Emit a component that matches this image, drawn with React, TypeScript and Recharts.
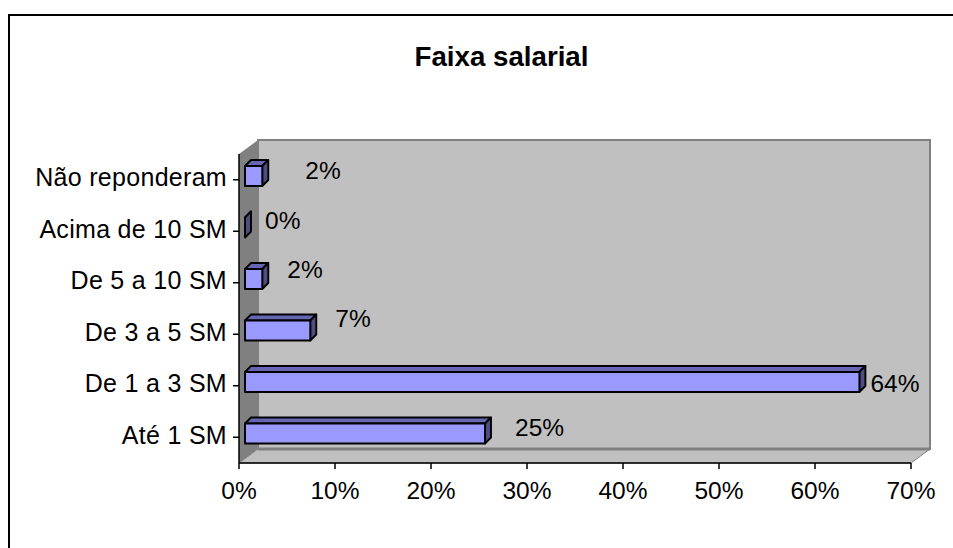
import React from "react";
import {
  BarChart,
  Bar,
  XAxis,
  YAxis,
  LabelList,
  ReferenceArea,
} from "recharts";

const categories = [
  "Não reponderam",
  "Acima de 10 SM",
  "De 5 a 10 SM",
  "De 3 a 5 SM",
  "De 1 a 3 SM",
  "Até 1 SM",
];
// the labels show them rounded
const percents = [1.8, 0, 1.8, 6.8, 64, 25];
const xTicks = [0, 10, 20, 30, 40, 50, 60, 70];

const rows = categories.map((name, i) => ({ name, value: percents[i] }));

// hand placed label nudges, the original labels were dragged around
const labelDx = [43, 20, 25, 25, 11, 30];
const labelDy = [-10, -11, -14, -16, -3, -10];

const FONT = '"Liberation Sans", Arial, sans-serif';
const DEPTH_X = 19; // wall offset
const DEPTH_Y = 14;
const BAR_DEPTH = 6;

const Wall = (props: any) => {
  const { x, y, width, height } = props;
  const right = x + width;
  const bottom = y + height;
  return (
    <g>
      {/* back wall */}
      <rect
        x={x + DEPTH_X}
        y={y - DEPTH_Y}
        width={width}
        height={height}
        fill="#c0c0c0"
        stroke="#808080"
        strokeWidth={2}
      />
      {/* side wall */}
      <polygon
        points={`${x},${y} ${x + DEPTH_X},${y - DEPTH_Y} ${x + DEPTH_X},${bottom - DEPTH_Y} ${x},${bottom}`}
        fill="#808080"
      />
      {/* floor */}
      <polygon
        points={`${x},${bottom} ${x + DEPTH_X},${bottom - DEPTH_Y} ${right + DEPTH_X},${bottom - DEPTH_Y} ${right},${bottom}`}
        fill="#c0c0c0"
        stroke="#808080"
        strokeWidth={1}
      />
      <line x1={x + DEPTH_X} y1={bottom - DEPTH_Y} x2={right + DEPTH_X} y2={bottom - DEPTH_Y} stroke="#808080" strokeWidth={3} />
    </g>
  );
};

const Bar3D = (props: any) => {
  const { x, y, width, height } = props;
  const fx = x + 6;
  const fy = y - 4;
  const w = width;
  const d = BAR_DEPTH;
  const line = { stroke: "#000", strokeWidth: 1.9, strokeLinejoin: "round" as const };
  return (
    <g>
      <polygon
        points={`${fx},${fy} ${fx + d},${fy - d} ${fx + w + d},${fy - d} ${fx + w},${fy}`}
        fill="#6666b3"
        {...line}
      />
      <polygon
        points={`${fx + w},${fy} ${fx + w + d},${fy - d} ${fx + w + d},${fy + height - d} ${fx + w},${fy + height}`}
        fill="#4d4d80"
        {...line}
      />
      {w > 0 && <rect x={fx} y={fy} width={w} height={height} fill="#9999ff" {...line} />}
    </g>
  );
};

const PercentLabel = (props: any) => {
  const { x, y, width, height, value, index } = props;
  return (
    <text
      x={x + width + 6 + labelDx[index]}
      y={y + height / 2 + labelDy[index]}
      dy="0.35em"
      fontFamily={FONT}
      fontSize={24.5}
      fill="#000"
    >
      {Math.round(value)}%
    </text>
  );
};

// category tick, sits a little above the band centre like the original
const CategoryTick = (props: any) => {
  const { x, y, payload } = props;
  return (
    <text
      x={x}
      y={y - 2.5}
      dy="0.35em"
      textAnchor="end"
      fontFamily={FONT}
      fontSize={25}
      letterSpacing={0.3}
      fill="#000"
    >
      {payload.value}
    </text>
  );
};

const App = () => (
  <div
    style={{
      position: "absolute",
      left: 0,
      top: 0,
      width: 953,
      height: 548,
      overflow: "hidden",
    }}
  >
    {/* frame only shows on the top and left, it runs off the page elsewhere */}
    <div
      style={{
        position: "absolute",
        left: 8,
        top: 14,
        width: 1000,
        height: 600,
        borderLeft: "2.5px solid #000",
        borderTop: "2.5px solid #000",
      }}
    />
    <div style={{ position: "absolute", left: 0, top: 0 }}>
      <BarChart
        width={953}
        height={548}
        data={rows}
        layout="vertical"
        margin={{ top: 154, right: 42, bottom: 45, left: 0 }}
        barSize={20}
        style={{ fontFamily: FONT }}
      >
        <text
          x={501.5}
          y={56}
          textAnchor="middle"
          dominantBaseline="central"
          fontFamily={FONT}
          fontWeight="bold"
          fontSize={27.7}
          fill="#000"
        >
          Faixa salarial
        </text>
        <XAxis
          type="number"
          domain={[0, 70]}
          ticks={xTicks}
          tickFormatter={(v) => `${v}%`}
          tick={{ fill: "#000", fontSize: 24.5 }}
          tickLine={{ stroke: "#000", strokeWidth: 1.5 }}
          axisLine={{ stroke: "#000", strokeWidth: 1.5 }}
          tickSize={6}
          tickMargin={13}
          height={40}
          interval={0}
        />
        <YAxis
          type="category"
          dataKey="name"
          tick={<CategoryTick />}
          tickLine={{ stroke: "#000", strokeWidth: 1.5 }}
          axisLine={{ stroke: "#000", strokeWidth: 1.5 }}
          tickSize={6}
          tickMargin={6}
          width={239}
          interval={0}
        />
        <ReferenceArea x1={0} x2={70} shape={<Wall />} ifOverflow="visible" />
        <Bar
          dataKey="value"
          isAnimationActive={false}
          shape={<Bar3D />}
        >
          <LabelList dataKey="value" content={<PercentLabel />} />
        </Bar>
      </BarChart>
    </div>
  </div>
);

export default App;
